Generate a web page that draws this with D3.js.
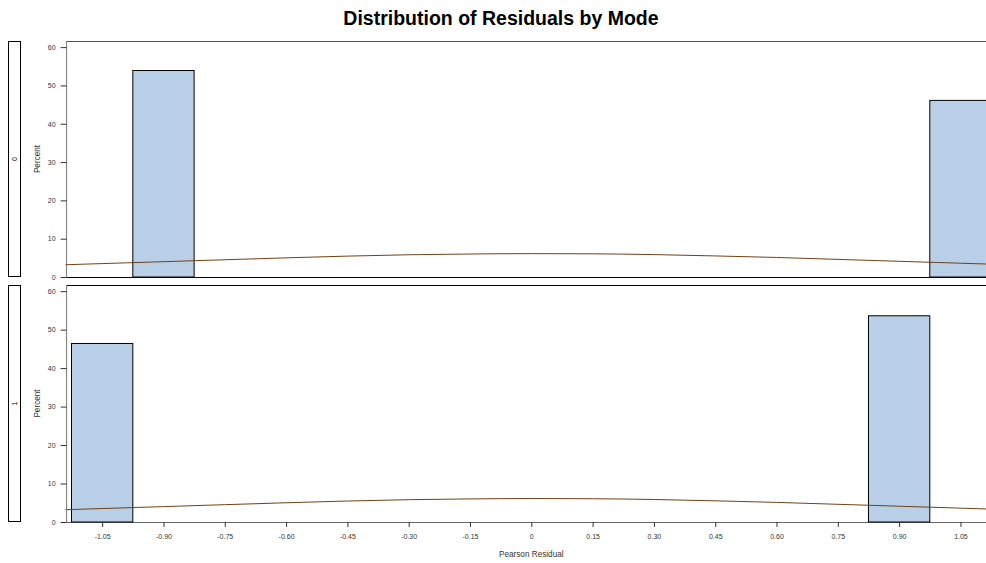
<!DOCTYPE html>
<html><head><meta charset="utf-8">
<script src="https://cdn.jsdelivr.net/npm/d3@7"></script>
<style>body{margin:0;background:#fff}svg{display:block;font-family:"Liberation Sans",Arial,sans-serif}</style>
</head><body><svg id="c" width="986" height="563"></svg>
<script>
const panels = ["0", "1"];
const binCenters = [-1.05, -0.90, 0.90, 1.05];
const binWidth = 0.15;
const percent0 = [0, 53.9, 0, 46.1];
const percent1 = [46.4, 0, 53.6, 0];
const curveX = [-1.14, -1.05, -0.90, -0.75, -0.60, -0.45, -0.30, -0.15, 0, 0.15, 0.30, 0.45, 0.60, 0.75, 0.90, 1.05, 1.14];
const curveY = [3.2, 3.5, 4.0, 4.5, 5.0, 5.45, 5.8, 6.0, 6.1, 6.05, 5.85, 5.5, 5.1, 4.6, 4.1, 3.6, 3.3];
const xTicks = [-1.05, -0.90, -0.75, -0.60, -0.45, -0.30, -0.15, 0, 0.15, 0.30, 0.45, 0.60, 0.75, 0.90, 1.05];
const xTickLabels = ["-1.05","-0.90","-0.75","-0.60","-0.45","-0.30","-0.15","0","0.15","0.30","0.45","0.60","0.75","0.90","1.05"];
const yTicks = [0, 10, 20, 30, 40, 50, 60];

const svg = d3.select("#c");
const x = d3.scaleLinear().domain([-1.137, 1.137]).range([66.6, 996]);
const layout = [{top: 41, bottom: 277}, {top: 285, bottom: 522}];
const data = [percent0, percent1];

svg.append("text").attr("x", 501).attr("y", 25).attr("text-anchor", "middle")
  .attr("font-size", 19.5).attr("font-weight", "bold").attr("fill", "#000")
  .text("Distribution of Residuals by Mode");

panels.forEach((p, i) => {
  const L = layout[i];
  const y = d3.scaleLinear().domain([0, 61.6]).range([L.bottom, L.top]);
  const g = svg.append("g");
  if (i === 1) {
    g.append("rect").attr("x", 0).attr("y", 281).attr("width", 986).attr("height", 250).attr("fill", "#fff");
  }
  // strip
  g.append("rect").attr("x", 8.5).attr("y", L.top + 0.5).attr("width", 12).attr("height", L.bottom - L.top - 1)
    .attr("fill", "#fff").attr("stroke", "#000").attr("stroke-width", 1);
  g.append("text").attr("transform", `translate(16.7,${(L.top + L.bottom) / 2}) rotate(-90)`)
    .attr("text-anchor", "middle").attr("font-size", 7).attr("fill", "#000").text(p);
  // y label
  g.append("text").attr("transform", `translate(40,${(L.top + L.bottom) / 2}) rotate(-90)`)
    .attr("text-anchor", "middle").attr("font-size", 8.2).attr("fill", "#333").text("Percent");
  // frame
  g.append("line").attr("x1", x.range()[0]).attr("x2", 986).attr("y1", L.top + 0.5).attr("y2", L.top + 0.5)
    .attr("stroke", i === 0 ? "#555" : "#000").attr("stroke-width", 1.2);
  g.append("line").attr("x1", x.range()[0]).attr("x2", 986).attr("y1", L.bottom + 0.5).attr("y2", L.bottom + 0.5)
    .attr("stroke", i === 0 ? "#000" : "#666").attr("stroke-width", 1.2);
  // bars
  const vals = data[i];
  g.selectAll("rect.bar").data(binCenters.map((c, k) => ({c, v: vals[k]})).filter(d => d.v > 0))
    .join("rect").attr("class", "bar")
    .attr("x", d => x(d.c - binWidth / 2)).attr("width", d => x(d.c + binWidth / 2) - x(d.c - binWidth / 2))
    .attr("y", d => y(d.v)).attr("height", d => y(0) - y(d.v))
    .attr("fill", "#b9cfe7").attr("stroke", "#000").attr("stroke-width", 1);
  // curve
  const line = d3.line().x(d => x(d[0])).y(d => y(d[1])).curve(d3.curveMonotoneX);
  g.append("path").datum(curveX.map((v, k) => [v, curveY[k]])).attr("d", line)
    .attr("fill", "none").attr("stroke", "#704214").attr("stroke-width", 1);
  // y axis
  const ya = g.append("g").attr("transform", `translate(${x.range()[0]},0)`)
    .call(d3.axisLeft(y).tickValues(yTicks).tickSize(6).tickPadding(5).tickFormat(d3.format("d")));
  ya.select(".domain").attr("stroke", "#777").attr("d", `M0,${L.top}V${L.bottom + 0.5}`);
  ya.selectAll(".tick line").attr("stroke", "#333");
  ya.selectAll(".tick text").attr("font-size", 7).attr("fill", "#333").attr("font-family", "Liberation Sans, Arial, sans-serif");
  if (i === 1) {
    const xa = g.append("g").attr("transform", `translate(0,${L.bottom})`)
      .call(d3.axisBottom(x).tickValues(xTicks).tickSize(5).tickPadding(7).tickFormat((d, k) => xTickLabels[k]));
    xa.select(".domain").remove();
    xa.selectAll(".tick line").attr("stroke", "#333");
    xa.selectAll(".tick text").attr("font-size", 7).attr("fill", "#333").attr("font-family", "Liberation Sans, Arial, sans-serif");
    g.append("text").attr("x", x(0)).attr("y", 557.3).attr("text-anchor", "middle")
      .attr("font-size", 8.2).attr("fill", "#333").text("Pearson Residual");
  }
});
</script></body></html>
